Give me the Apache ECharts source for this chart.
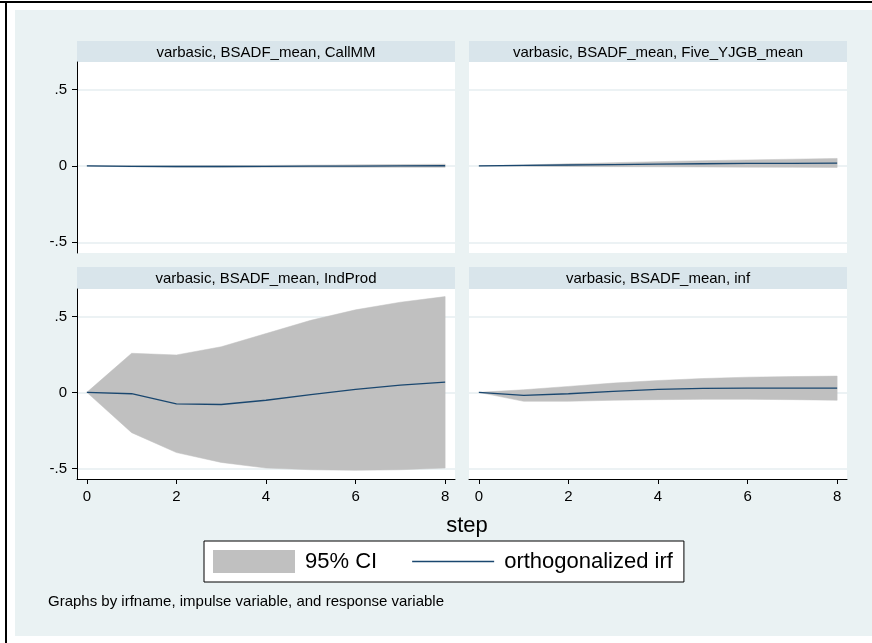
<!DOCTYPE html>
<html>
<head>
<meta charset="utf-8">
<script src="https://cdn.jsdelivr.net/npm/echarts@6/dist/echarts.min.js"></script>
<style>
html, body { margin: 0; padding: 0; background: #fff; }
#main { width: 872px; height: 643px; }
</style>
</head>
<body>
<div id="main"></div>
<script>
// 数据 ----------------------start
var steps = [0, 1, 2, 3, 4, 5, 6, 7, 8];
var panelTitles = [
    'varbasic, BSADF_mean, CallMM',
    'varbasic, BSADF_mean, Five_YJGB_mean',
    'varbasic, BSADF_mean, IndProd',
    'varbasic, BSADF_mean, inf'
];
var yTicks = [-0.5, 0, 0.5];
var xTicks = [0, 2, 4, 6, 8];

// CallMM
var irfCall = [0, -0.003, -0.004, -0.004, -0.003, -0.002, -0.001, 0, 0.001];
var loCall  = [0, -0.006, -0.008, -0.009, -0.009, -0.009, -0.009, -0.009, -0.009];
var hiCall  = [0, 0.001, 0.001, 0.002, 0.003, 0.005, 0.007, 0.009, 0.011];
// Five_YJGB_mean
var irfFive = [0, 0.003, 0.006, 0.009, 0.011, 0.014, 0.016, 0.017, 0.018];
var loFive  = [0, -0.002, -0.004, -0.005, -0.006, -0.007, -0.008, -0.009, -0.01];
var hiFive  = [0, 0.006, 0.014, 0.021, 0.028, 0.034, 0.039, 0.044, 0.049];
// IndProd
var irfInd = [0, -0.009, -0.076, -0.080, -0.052, -0.015, 0.020, 0.048, 0.067];
var loInd  = [0, -0.265, -0.396, -0.461, -0.498, -0.509, -0.513, -0.509, -0.498];
var hiInd  = [0, 0.257, 0.246, 0.300, 0.387, 0.474, 0.543, 0.593, 0.630];
// inf
var irfInf = [0, -0.020, -0.009, 0.007, 0.020, 0.026, 0.028, 0.028, 0.028];
var loInf  = [0, -0.059, -0.059, -0.052, -0.048, -0.046, -0.046, -0.048, -0.052];
var hiInf  = [0, 0.017, 0.039, 0.061, 0.078, 0.091, 0.100, 0.104, 0.107];

var panelIrf = [irfCall, irfFive, irfInd, irfInf];
var panelLo = [loCall, loFive, loInd, loInf];
var panelHi = [hiCall, hiFive, hiInd, hiInf];
// 数据 ----------------------end

var FONT = 'Liberation Sans, Arial, sans-serif';
var BG = '#eaf2f3';
var STRIP = '#d9e5eb';
var CI_COLOR = '#c0c0c0';
var IRF_COLOR = '#1a476f';

// 画面位置
var gridPos = [
    {left: 77, top: 62, width: 378, height: 191},
    {left: 469, top: 62, width: 378, height: 191},
    {left: 77, top: 289, width: 378, height: 190},
    {left: 469, top: 289, width: 378, height: 190}
];
var stripPos = [
    {x: 77, y: 41, h: 21},
    {x: 469, y: 41, h: 21},
    {x: 77, y: 267, h: 22},
    {x: 469, y: 267, h: 22}
];

function pairs(xs, ys) {
    var out = [];
    for (var i = 0; i < xs.length; i++) out.push([xs[i], ys[i]]);
    return out;
}

function bandRows(xs, lo, hi) {
    var out = [];
    for (var i = 0; i < xs.length; i++) out.push([xs[i], lo[i], hi[i]]);
    return out;
}

function tickFmt(v) {
    if (v === 0) return '0';
    return String(v).replace('0.', '.');
}

// 置信区间：在第一个数据项处一次画出整个多边形
function renderBand(params, api) {
    if (params.dataIndexInside !== 0) return null;
    var n = params.dataInsideLength;
    var top = [], bottom = [];
    for (var i = 0; i < n; i++) {
        var x = api.value(0, i);
        top.push(api.coord([x, api.value(2, i)]));
        bottom.unshift(api.coord([x, api.value(1, i)]));
    }
    return {
        type: 'polygon',
        shape: {points: top.concat(bottom)},
        style: {fill: CI_COLOR, stroke: CI_COLOR, lineWidth: 0.5}
    };
}

var grids = [], xAxes = [], yAxes = [], series = [];
var graphics = [
    // 外框
    {type: 'rect', z: -10, shape: {x: 0, y: 1, width: 872, height: 2}, style: {fill: '#000'}},
    {type: 'rect', z: -10, shape: {x: 5, y: 1, width: 2, height: 642}, style: {fill: '#000'}},
    {type: 'rect', z: -10, shape: {x: 15, y: 10, width: 857, height: 626}, style: {fill: BG}}
];

for (var p = 0; p < 4; p++) {
    var isLeft = (p % 2 === 0);
    var isBottom = (p >= 2);
    grids.push({
        left: gridPos[p].left, top: gridPos[p].top,
        width: gridPos[p].width, height: gridPos[p].height,
        show: true, backgroundColor: '#fff', borderWidth: 0
    });
    xAxes.push({
        type: 'value', gridIndex: p, min: -0.22, max: 8.22,
        axisLine: {show: isBottom, onZero: false, lineStyle: {color: '#000', width: 1}},
        axisTick: {show: isBottom, length: 5, customValues: xTicks, lineStyle: {color: '#000'}},
        axisLabel: {show: isBottom, customValues: xTicks, margin: 10, fontSize: 15, color: '#000', fontFamily: FONT},
        splitLine: {show: false}
    });
    yAxes.push({
        type: 'value', gridIndex: p, min: -0.57, max: 0.68,
        axisLine: {show: isLeft, onZero: false, lineStyle: {color: '#000', width: 1}},
        axisTick: {show: isLeft, length: 5, customValues: yTicks, lineStyle: {color: '#000'}},
        axisLabel: {show: isLeft, customValues: yTicks, margin: 10, fontSize: 15, color: '#000', fontFamily: FONT, formatter: tickFmt},
        splitLine: {show: true, lineStyle: {color: '#e6eef0', width: 1.5}}
    });

    // 置信区间
    series.push({
        type: 'custom', name: '95% CI', xAxisIndex: p, yAxisIndex: p,
        data: bandRows(steps, panelLo[p], panelHi[p]),
        encode: {x: 0, y: [1, 2]},
        renderItem: renderBand, silent: true,
        itemStyle: {color: CI_COLOR}, z: 1
    });
    // irf
    series.push({
        type: 'line', name: 'orthogonalized irf', xAxisIndex: p, yAxisIndex: p,
        data: pairs(steps, panelIrf[p]), symbol: 'none', silent: true,
        color: IRF_COLOR, itemStyle: {color: IRF_COLOR},
        lineStyle: {color: IRF_COLOR, width: 1.3}, z: 3
    });

    graphics.push({
        type: 'rect', z: -5,
        shape: {x: stripPos[p].x, y: stripPos[p].y, width: 378, height: stripPos[p].h},
        style: {fill: STRIP}
    });
    graphics.push({
        type: 'text', z: -4,
        x: stripPos[p].x + 189, y: stripPos[p].y + stripPos[p].h / 2 + 1,
        style: {text: panelTitles[p], fill: '#000', font: '15px ' + FONT, align: 'center', verticalAlign: 'middle'}
    });
}

graphics.push({
    type: 'text', x: 48, y: 602,
    style: {text: 'Graphs by irfname, impulse variable, and response variable', fill: '#000',
        font: '15px ' + FONT, align: 'left', verticalAlign: 'middle'}
});

var option = {
    animation: false,
    backgroundColor: '#fff',
    title: {
        text: 'step', left: 462, top: 510, textAlign: 'center',
        textStyle: {fontSize: 22, fontWeight: 'normal', color: '#000', fontFamily: FONT}
    },
    legend: {
        data: [
            {name: '95% CI', icon: 'rect'},
            {name: 'orthogonalized irf', icon: 'path://M0,0L82,0L82,1.6L0,1.6Z'}
        ],
        left: 204, top: 541,
        padding: [9, 11, 9, 9],
        itemGap: 35, itemWidth: 82, itemHeight: 23,
        symbolKeepAspect: true,
        backgroundColor: '#fff', borderColor: '#000', borderWidth: 1, borderRadius: 0,
        itemStyle: {borderWidth: 0},
        selectedMode: false,
        textStyle: {fontSize: 22, color: '#000', fontFamily: FONT, padding: [0, 0, 0, 5]}
    },
    grid: grids,
    xAxis: xAxes,
    yAxis: yAxes,
    series: series,
    graphic: graphics
};

var chart = echarts.init(document.getElementById('main'));
chart.setOption(option);
</script>
</body>
</html>
